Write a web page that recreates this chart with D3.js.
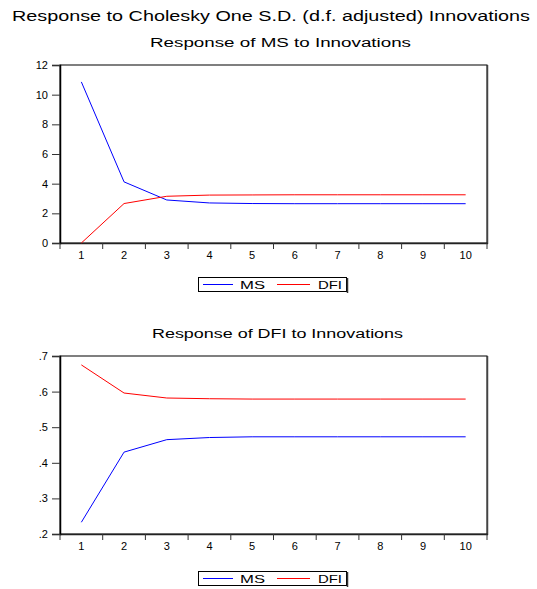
<!DOCTYPE html>
<html><head><meta charset="utf-8">
<script src="https://cdn.jsdelivr.net/npm/d3@7"></script>
<style>body{margin:0;background:#fff}svg{display:block}text{font-family:Arial,"Liberation Sans",sans-serif;fill:#000}</style>
</head><body>
<script>
const periods = [1,2,3,4,5,6,7,8,9,10];
const msToMS  = [10.86, 4.12, 2.90, 2.70, 2.66, 2.65, 2.65, 2.65, 2.65, 2.65];
const msToDFI = [0.00, 2.66, 3.15, 3.23, 3.24, 3.25, 3.25, 3.25, 3.25, 3.25];
const dfiToMS  = [0.233, 0.430, 0.465, 0.471, 0.473, 0.473, 0.473, 0.473, 0.473, 0.473];
const dfiToDFI = [0.675, 0.596, 0.582, 0.580, 0.579, 0.579, 0.579, 0.579, 0.579, 0.579];
const ticksTop = [0,2,4,6,8,10,12];
const ticksBot = [0.2,0.3,0.4,0.5,0.6,0.7];
const seriesNames = ["MS","DFI"];
const colors = ["#0000ff","#ff0000"];

const W=537,H=589;
const svg=d3.select("body").append("svg").attr("width",W).attr("height",H);
svg.append("text").attr("x",12).attr("y",21)
  .attr("font-size",14).attr("textLength",518).attr("lengthAdjust","spacingAndGlyphs")
  .text("Response to Cholesky One S.D. (d.f. adjusted) Innovations");

function panel(top, title, titleX, titleW, domain, ticks, fmt, series, legendY){
  const L=60,R=487,T=top,B=top+178;
  svg.append("text").attr("x",titleX).attr("y",T-18).attr("font-size",12)
    .attr("textLength",titleW).attr("lengthAdjust","spacingAndGlyphs").text(title);
  const x=d3.scaleBand().domain(periods).range([L,R]);
  const y=d3.scaleLinear().domain(domain).range([B,T]);
  // frame
  svg.append("rect").attr("x",L).attr("y",T).attr("width",R-L).attr("height",B-T)
    .attr("fill","none").attr("stroke","#000").attr("stroke-width",1);
  svg.append("line").attr("x1",R+0.5).attr("x2",R+0.5).attr("y1",T).attr("y2",B+1).attr("stroke","#444").attr("stroke-width",1.5);
  svg.append("line").attr("x1",L).attr("x2",R+1).attr("y1",B+0.5).attr("y2",B+0.5).attr("stroke","#222").attr("stroke-width",1.5);
  // y axis
  const ya=svg.append("g").attr("transform",`translate(${L},0)`)
    .call(d3.axisLeft(y).tickValues(ticks).tickFormat(fmt).tickSize(8).tickPadding(4));
  ya.select(".domain").attr("stroke-width",1.5);
  ya.selectAll(".tick line").attr("stroke","#333");
  ya.selectAll("text").attr("font-size",11).attr("font-family","Arial,'Liberation Sans',sans-serif");
  // x axis: ticks at band boundaries, labels centered
  const xa=svg.append("g").attr("transform",`translate(0,${B})`);
  periods.forEach(p=>{
    const bx=x(p);
    xa.append("line").attr("x1",bx).attr("x2",bx).attr("y1",0).attr("y2",6).attr("stroke","#333");
    xa.append("text").attr("x",bx+x.bandwidth()/2).attr("y",16).attr("text-anchor","middle")
      .attr("font-size",11).text(p);
  });
  xa.append("line").attr("x1",R).attr("x2",R).attr("y1",0).attr("y2",6).attr("stroke","#333");
  const line=d3.line().x((d,i)=>x(periods[i])+x.bandwidth()/2).y(d=>y(d));
  series.forEach((s,k)=>{
    svg.append("path").datum(s).attr("d",line).attr("fill","none")
      .attr("stroke",colors[k]).attr("stroke-width",1);
  });
  // legend
  const lg=svg.append("g");
  lg.append("rect").attr("x",198.5).attr("y",legendY+0.5).attr("width",148).attr("height",14)
    .attr("fill","#fff").attr("stroke","#000");
  lg.append("line").attr("x1",347.5).attr("x2",347.5).attr("y1",legendY+1).attr("y2",legendY+16).attr("stroke","#333").attr("stroke-width",1.5);
  const lx=[203,277], lw=[30,33], tx=[240,318], tw=[25,24];
  seriesNames.forEach((n,k)=>{
    lg.append("line").attr("x1",lx[k]).attr("x2",lx[k]+lw[k]).attr("y1",legendY+7.5).attr("y2",legendY+7.5)
      .attr("stroke",colors[k]).attr("stroke-width",1);
    lg.append("text").attr("x",tx[k]).attr("y",legendY+11.5).attr("font-size",11)
      .attr("textLength",tw[k]).attr("lengthAdjust","spacingAndGlyphs").text(n);
  });
}
panel(65,"Response of MS to Innovations",150,261,[0,12],ticksTop,d3.format("d"),[msToMS,msToDFI],277);
const fmtDot=d=>"."+Math.round(d*10);
panel(356,"Response of DFI to Innovations",152,251,[0.2,0.7],ticksBot,fmtDot,[dfiToMS,dfiToDFI],571);
</script>
</body></html>
